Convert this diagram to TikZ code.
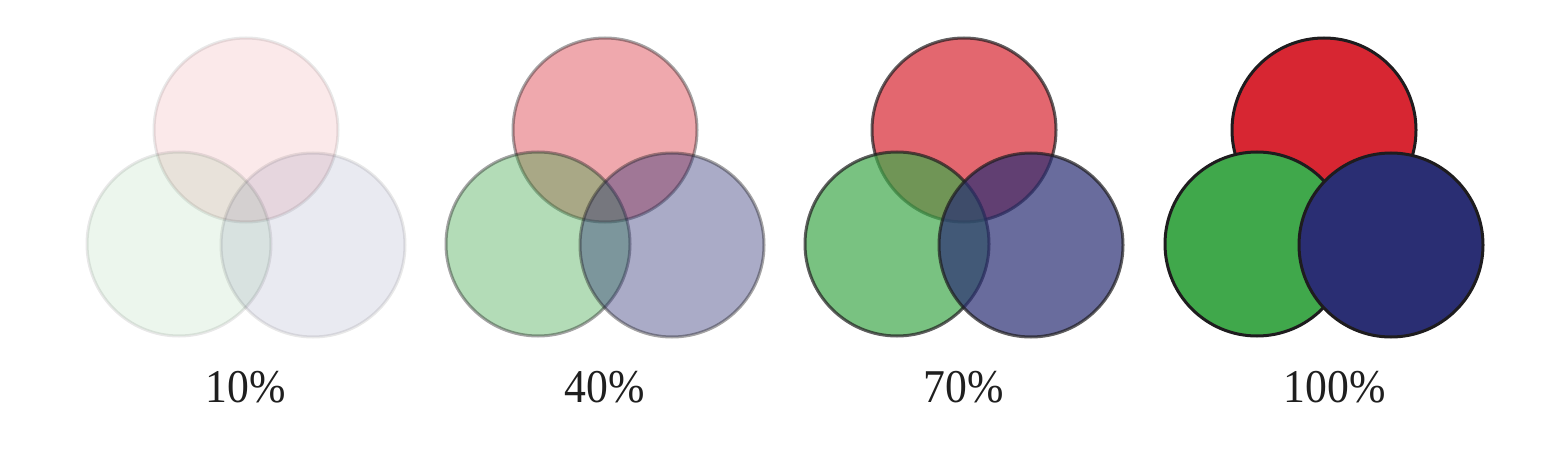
\documentclass[tikz,border=0pt]{standalone}
\usepackage{fontspec}
\setmainfont{Liberation Serif}
\definecolor{cred}{RGB}{215,38,50}
\definecolor{cgreen}{RGB}{64,168,75}
\definecolor{cblue}{RGB}{42,46,115}
\definecolor{cline}{RGB}{30,28,30}
\begin{document}
\begin{tikzpicture}[x=1pt,y=1pt,
  disc/.style={draw=cline,line width=3pt},
  lbl/.style={anchor=base west,font=\fontsize{47}{50}\selectfont,text=black!88,inner sep=0pt,xscale=0.93,transform shape}]
\useasboundingbox (0,0) rectangle (1542,456);
\foreach \dx/\op/\t [count=\i] in {0/0.1/10\%,359/0.4/40\%,718/0.7/70\%,1078/1/100\%}{
  \begin{scope}[xshift=\dx pt]
    \fill[disc,fill=cred,fill opacity=\op,draw opacity=\op] (246,326) circle (92);
    \fill[disc,fill=cgreen,fill opacity=\op,draw opacity=\op] (179,212) circle (92);
    \fill[disc,fill=cblue,fill opacity=\op,draw opacity=\op] (313,211) circle (92);
    \node[lbl] (l\i) at (205.5,54) {\t};
  \end{scope}
}
\end{tikzpicture}
\end{document}
